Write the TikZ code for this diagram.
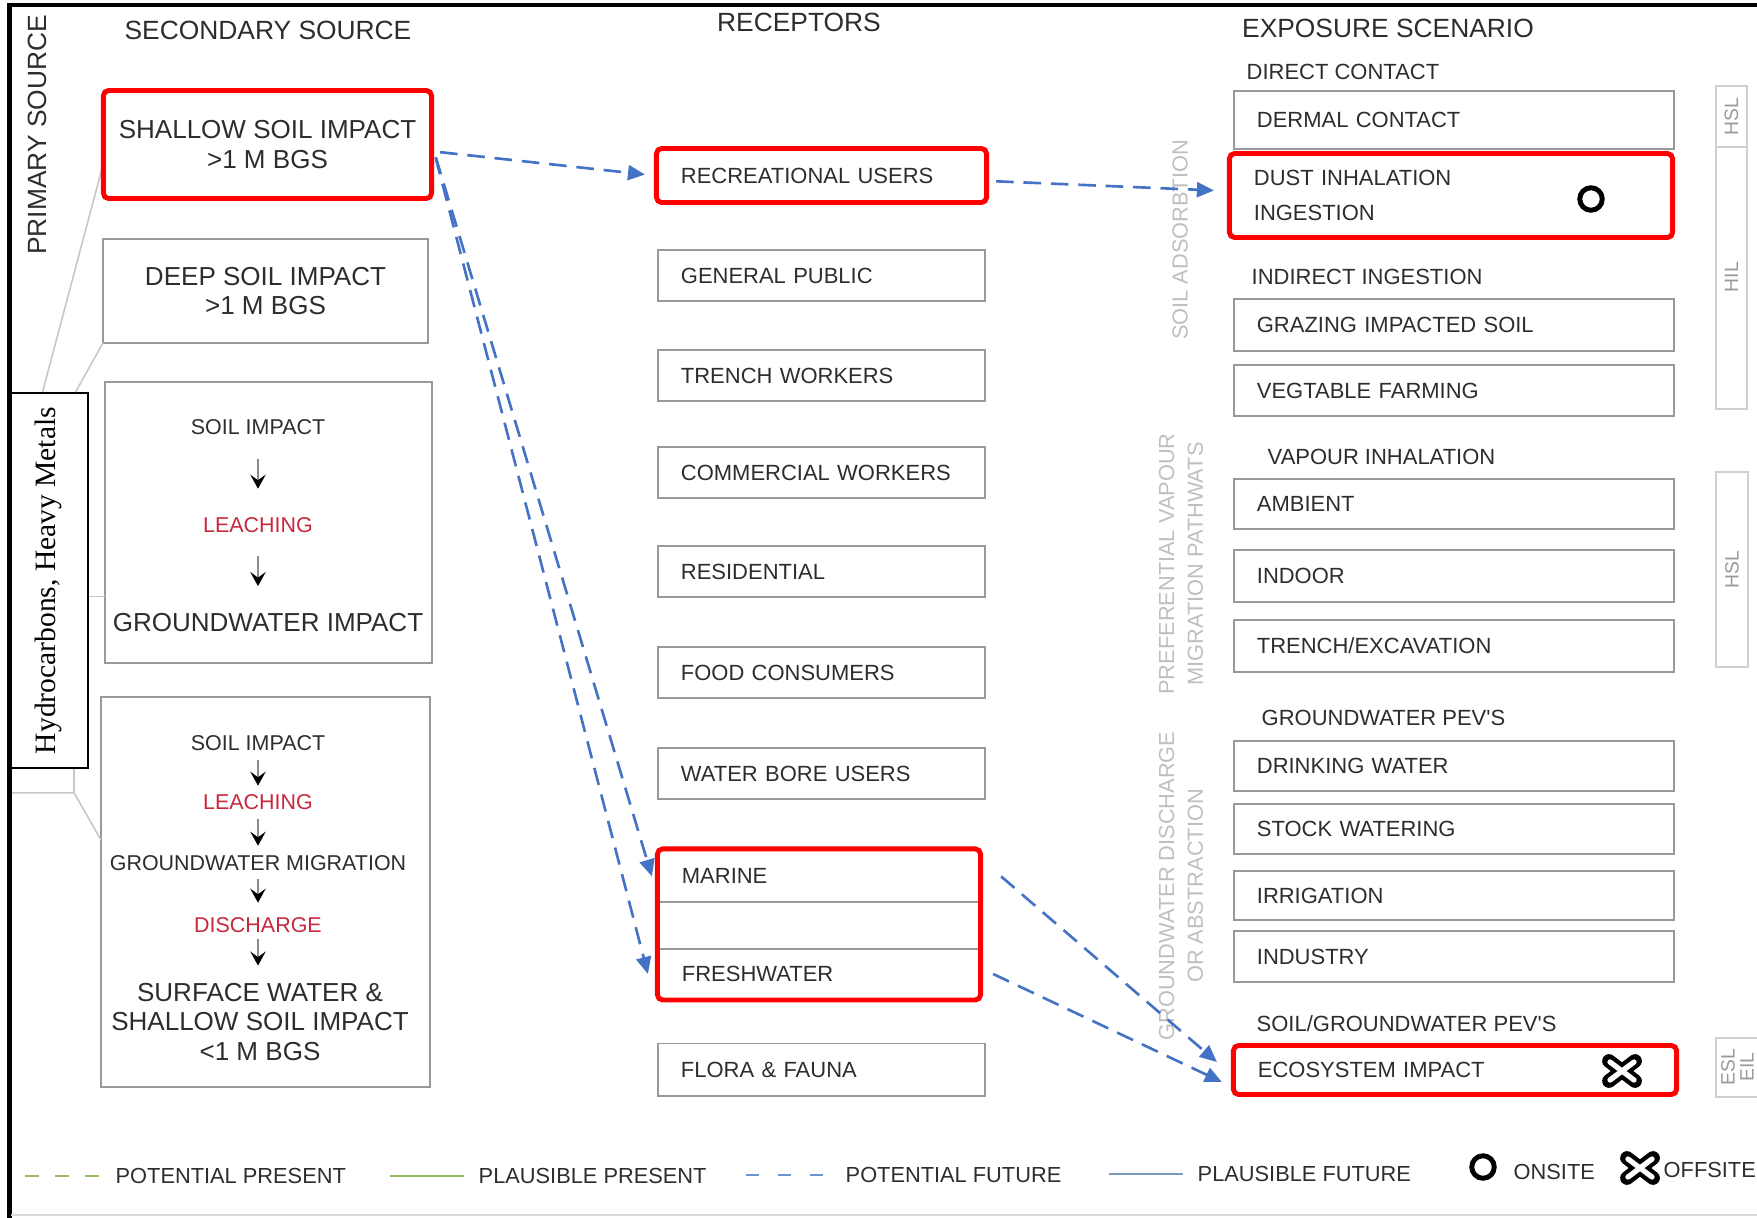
\documentclass[tikz,border=0pt]{standalone}
\usepackage{fontspec}
\setmainfont{Liberation Sans}
\newfontfamily\hmserif{Liberation Serif}
\usetikzlibrary{arrows.meta, positioning, fit, calc}
\definecolor{csmblue}{RGB}{68,114,196}
\definecolor{csmred}{RGB}{255,0,0}
\definecolor{csmtext}{RGB}{45,45,45}
\definecolor{csmpink}{RGB}{200,40,60}
\definecolor{lgdgreen}{RGB}{150,190,105}
\definecolor{lgdblue}{RGB}{105,150,205}
\definecolor{lgdsteel}{RGB}{120,155,190}

\tikzset{
  offmk/.pic={
    \draw[line width=3.9pt, line cap=round]
      (-0.13cm,-0.1cm) -- (0.13cm,0.1cm)
      (-0.13cm,0.1cm) -- (0.13cm,-0.1cm);
    \draw[white, line width=1.5pt, line cap=round]
      (-0.12cm,-0.09cm) -- (0.12cm,0.09cm)
      (-0.12cm,0.09cm) -- (0.12cm,-0.09cm);
  }
}

\begin{document}
\begin{tikzpicture}[x=0.01cm, y=-0.01cm,
    srcbox/.style={draw=black!40, line width=0.55pt, outer sep=0pt,
                   minimum width=3.25cm, align=center, text=csmtext,
                   font=\fontsize{7.4}{8.5}\selectfont},
    rcpbox/.style={draw=black!40, line width=0.55pt, outer sep=0pt,
                   minimum height=0.51cm, text width=2.81cm, inner xsep=0.23cm,
                   inner ysep=0pt, align=left, text=csmtext,
                   font=\fontsize{6.25}{7.5}\selectfont},
    expbox/.style={rcpbox, text width=3.94cm},
    hdr/.style={text=csmtext, inner sep=0pt, font=\fontsize{7.5}{9}\selectfont},
    grp/.style={text=csmtext, anchor=west, inner sep=0pt,
                font=\fontsize{6.25}{7.5}\selectfont},
    stp/.style={text=csmtext, inner sep=0pt, font=\fontsize{6.1}{7.3}\selectfont},
    redfr/.style={draw=csmred, line width=1.4pt, rounded corners=1.5pt, inner sep=0.015cm},
    flw/.style={draw=black!45, line width=0.35pt,
                -{Stealth[length=4pt, width=4.4pt, inset=1.6pt, color=black]}},
    pth/.style={draw=csmblue, line width=0.75pt, dash pattern=on 5pt off 2.8pt,
                -{Triangle[length=0.17cm, width=0.15cm]}},
    lnk/.style={draw=black!22, line width=0.45pt},
    faint/.style={text=black!25, rotate=90, align=center, inner sep=0pt,
                  font=\fontsize{6.2}{8.2}\selectfont},
    lvl/.style={draw=black!18, line width=0.45pt, outer sep=0pt, inner sep=0pt},
    lvltxt/.style={text=black!40, rotate=90, inner sep=0pt, font=\fontsize{5.5}{6}\selectfont},
    lgd/.style={text=csmtext, anchor=west, inner sep=0pt, font=\fontsize{6.2}{7.5}\selectfont},
    lgln/.style={line width=0.8pt},
    onmk/.style={draw=black, line width=1.4pt, circle, minimum size=0.225cm, inner sep=0pt}
  ]
  \useasboundingbox (0,0) rectangle (1757,1218);

  % Headers
  \node[hdr, rotate=90] (prim) at (37,135) {PRIMARY SOURCE};
  \node[hdr] (secsrc) at (268,30) {SECONDARY SOURCE};
  \node[hdr] (rcpt) at (799,22) {RECEPTORS};
  \node[hdr] (expsc) at (1388,28) {EXPOSURE SCENARIO};

  % Secondary sources
  \node[srcbox, minimum height=1.05cm] (shallow) at (267.5,144.5) {SHALLOW SOIL IMPACT\\>1 M BGS};
  \node[srcbox, minimum height=1.04cm] (deep) at (265.5,291) {DEEP SOIL IMPACT\\>1 M BGS};
  \node[srcbox, minimum width=3.27cm, minimum height=2.81cm] (leachbox) at (268.5,522.5) {};
  \node[srcbox, minimum width=3.29cm, minimum height=3.90cm] (dischbox) at (265.5,892) {};

  \node[stp] (soil3) at (258,427) {SOIL IMPACT};
  \node[stp, text=csmpink] (leach3) at (258,525) {LEACHING};
  \node[stp, font=\fontsize{7.4}{8.5}\selectfont] (gw3) at (268,623) {GROUNDWATER IMPACT};
  \draw[flw, shorten <=0.24cm, shorten >=0.28cm] (soil3) -- (leach3);
  \draw[flw, shorten <=0.23cm, shorten >=0.27cm] (leach3) -- (leach3 |- gw3.north);

  \node[stp] (soil4) at (258,743) {SOIL IMPACT};
  \node[stp, text=csmpink] (leach4) at (258,802) {LEACHING};
  \node[stp] (gwm4) at (258,863) {GROUNDWATER MIGRATION};
  \node[stp, text=csmpink] (disc4) at (258,925) {DISCHARGE};
  \node[stp, align=center, font=\fontsize{7.4}{8.4}\selectfont] (surf4) at (260,1022)
       {SURFACE WATER \&\\SHALLOW SOIL IMPACT\\<1 M BGS};
  \draw[flw, shorten <=0.09cm, shorten >=0.08cm] (soil4) -- (leach4);
  \draw[flw, shorten <=0.09cm, shorten >=0.09cm] (leach4) -- (gwm4);
  \draw[flw, shorten <=0.08cm, shorten >=0.14cm] (gwm4) -- (disc4);
  \draw[flw, shorten <=0.06cm, shorten >=0.17cm] (disc4) -- (disc4 |- surf4.north);

  % Primary source
  \node[draw=black, line width=0.45pt, fill=white, minimum width=0.79cm,
        minimum height=3.75cm, inner sep=0pt] (hydro) at (48.5,580.5)
       {\rotatebox{90}{\hmserif\fontsize{8.4}{10}\selectfont Hydrocarbons, Heavy Metals}};
  \draw[lnk] ([xshift=-0.06cm]hydro.north) -- ([yshift=-0.13cm]shallow.west);
  \draw[lnk] ([xshift=0.27cm]hydro.north) -- (deep.south west);
  \draw[lnk] ($(hydro.east)+(0,16)$) -- ($(leachbox.west |- hydro.east)+(0,16)$);
  \draw[lnk] ($(hydro.south west)+(66,0)$) -- ($(hydro.south west)+(66,24)$);
  \draw[lnk] ($(hydro.south west)+(4,24)$) -- ($(hydro.south west)+(66,24)$)
             -- ($(dischbox.north west)+(0,143)$);

  % Receptors
  \node[rcpbox] (recusr) at (821.5,175.5) {RECREATIONAL USERS};
  \node[rcpbox, below=0.49cm of recusr] (genpub) {GENERAL PUBLIC};
  \node[rcpbox, below=0.49cm of genpub] (trwork) {TRENCH WORKERS};
  \node[rcpbox, below=0.46cm of trwork] (cmwork) {COMMERCIAL WORKERS};
  \node[rcpbox, below=0.48cm of cmwork] (resid) {RESIDENTIAL};
  \node[rcpbox, below=0.50cm of resid] (foodc) {FOOD CONSUMERS};
  \node[rcpbox, below=0.50cm of foodc] (wbore) {WATER BORE USERS};
  \node[rcpbox, text width=2.74cm, minimum height=0.52cm,
        below=0.51cm of wbore, xshift=-0.025cm] (marine) {MARINE};
  \node[rcpbox, text width=2.74cm, minimum height=0.47cm, below=0pt of marine] (mfgap) {};
  \node[rcpbox, text width=2.74cm, minimum height=0.49cm, below=0pt of mfgap] (fresh) {FRESHWATER};
  \node[rcpbox, minimum height=0.52cm, below=0.45cm of fresh, xshift=0.025cm] (flora) {FLORA \& FAUNA};

  % Exposure scenarios
  \node[grp] (dirc) at (1246,72) {DIRECT CONTACT};
  \node[expbox, minimum height=0.58cm] (dermal) at (1454,120) {DERMAL CONTACT};
  \node[expbox, minimum height=0.81cm, font=\fontsize{6.25}{10.1}\selectfont] (dust)
       at (1451,195.5) {DUST INHALATION\\INGESTION};
  \node[grp] (indirc) at (1251,277) {INDIRECT INGESTION};
  \node[expbox, minimum height=0.52cm] (graze) at (1454,325) {GRAZING IMPACTED SOIL};
  \node[expbox] (vegf) at (1454,390.5) {VEGTABLE FARMING};
  \node[grp] (vapin) at (1267,457) {VAPOUR INHALATION};
  \node[expbox, minimum height=0.50cm] (ambnt) at (1454,504) {AMBIENT};
  \node[expbox, minimum height=0.52cm] (indoor) at (1454,576) {INDOOR};
  \node[expbox, minimum height=0.52cm] (trexc) at (1454,646) {TRENCH/EXCAVATION};
  \node[grp] (gwpev) at (1261,718) {GROUNDWATER PEV\textquotesingle S};
  \node[expbox, minimum height=0.50cm] (drink) at (1454,766) {DRINKING WATER};
  \node[expbox, minimum height=0.50cm] (stock) at (1454,829) {STOCK WATERING};
  \node[expbox, minimum height=0.49cm] (irrig) at (1454,895.5) {IRRIGATION};
  \node[expbox] (indus) at (1454,956.5) {INDUSTRY};
  \node[grp] (sgwpev) at (1256,1024) {SOIL/GROUNDWATER PEV\textquotesingle S};
  \node[expbox, minimum height=0.46cm] (eco) at (1455,1070) {ECOSYSTEM IMPACT};

  % Pathway labels
  \node[faint] (soilads) at (1180,240) {SOIL ADSORBTION};
  \node[faint] (prefvap) at (1181,564) {PREFERENTIAL VAPOUR\\MIGRATION PATHWATS};
  \node[faint] (gwdisc) at (1181,886) {GROUNDWATER DISCHARGE\\OR ABSTRACTION};

  % Levels
  \node[lvl, minimum width=0.31cm, minimum height=3.23cm] (lvlhil) at (1731.5,247.5) {};
  \draw[lvl] ($(lvlhil.north west)+(0,61)$) -- ($(lvlhil.north east)+(0,61)$);
  \node[lvltxt] (hsla) at (1731.5,117) {HSL};
  \node[lvltxt] (hila) at (1731.5,277) {HIL};
  \node[lvl, minimum width=0.32cm, minimum height=1.95cm] (lvlhsl) at (1732,569.5) {};
  \node[lvltxt] (hslb) at (1732,570) {HSL};
  \node[lvl, minimum width=0.54cm, minimum height=0.59cm] (lvlesl) at (1743,1067.5) {};
  \node[lvltxt] (eslc) at (1728,1067) {ESL};
  \node[lvltxt] (eilc) at (1747,1067) {EIL};

  % Selected pathway
  \node[redfr, fit=(shallow)] (shfr) {};
  \node[redfr, fit=(recusr)] (recfr) {};
  \node[redfr, fit=(marine)(fresh)] (mffr) {};
  \node[redfr, fit=(dust)] (dustfr) {};
  \node[redfr, fit=(eco)] (ecofr) {};
  \node[onmk] (onsdust) at (1591,199) {};
  \pic (offeco) at (1622,1071) {offmk};

  \draw[pth, shorten <=0.06cm, shorten >=0.09cm] ([yshift=-0.07cm]shfr.east) -- (recfr.west);
  \draw[pth, shorten <=0.06cm] ([yshift=-0.07cm]shfr.east) -- ([xshift=-0.07cm]marine.west);
  \draw[pth, shorten <=0.06cm] ([yshift=-0.07cm]shfr.east) -- ([xshift=-0.11cm]fresh.west);
  \draw[pth, shorten <=0.07cm, shorten >=0.13cm] ([yshift=-0.055cm]recfr.east) -- ([yshift=0.045cm]dustfr.west);
  \draw[pth] ([xshift=0.22cm]marine.east) -- ([shift={(-0.14cm,0.08cm)}]ecofr.west);
  \draw[pth] ([xshift=0.14cm]fresh.east) -- ([shift={(-0.09cm,-0.12cm)}]ecofr.west);

  % Legend
  \node[lgd] (lgpp) at (115,1176) {POTENTIAL PRESENT};
  \node[lgd] (lgplp) at (478,1176) {PLAUSIBLE PRESENT};
  \node[lgd] (lgpf) at (845,1175) {POTENTIAL FUTURE};
  \node[lgd] (lgplf) at (1197,1174) {PLAUSIBLE FUTURE};
  \node[onmk] (lgon) at (1483,1167) {};
  \node[lgd] (lgons) at (1513,1172) {ONSITE};
  \pic (lgoff) at (1640,1168) {offmk};
  \node[lgd] (lgoffs) at (1663,1170) {OFFSITE};
  \draw[lgln, lgdgreen, dash pattern=on 4pt off 4.5pt] ([xshift=-0.90cm]lgpp.west) -- ([xshift=-0.15cm]lgpp.west);
  \draw[lgln, lgdgreen] ([xshift=-0.88cm]lgplp.west) -- ([xshift=-0.14cm]lgplp.west);
  \draw[lgln, lgdblue, dash pattern=on 3.7pt off 5.4pt] ([xshift=-0.99cm]lgpf.west) -- ([xshift=-0.21cm]lgpf.west);
  \draw[lgln, lgdsteel] ([xshift=-0.88cm]lgplf.west) -- ([xshift=-0.14cm]lgplf.west);

  % Frame
  \draw[line width=1.15pt] (1757,5) -- (9.5,5) -- (9.5,1218);
  \draw[black!15, line width=0.5pt] (11,1215) -- (1757,1215);
\end{tikzpicture}
\end{document}
